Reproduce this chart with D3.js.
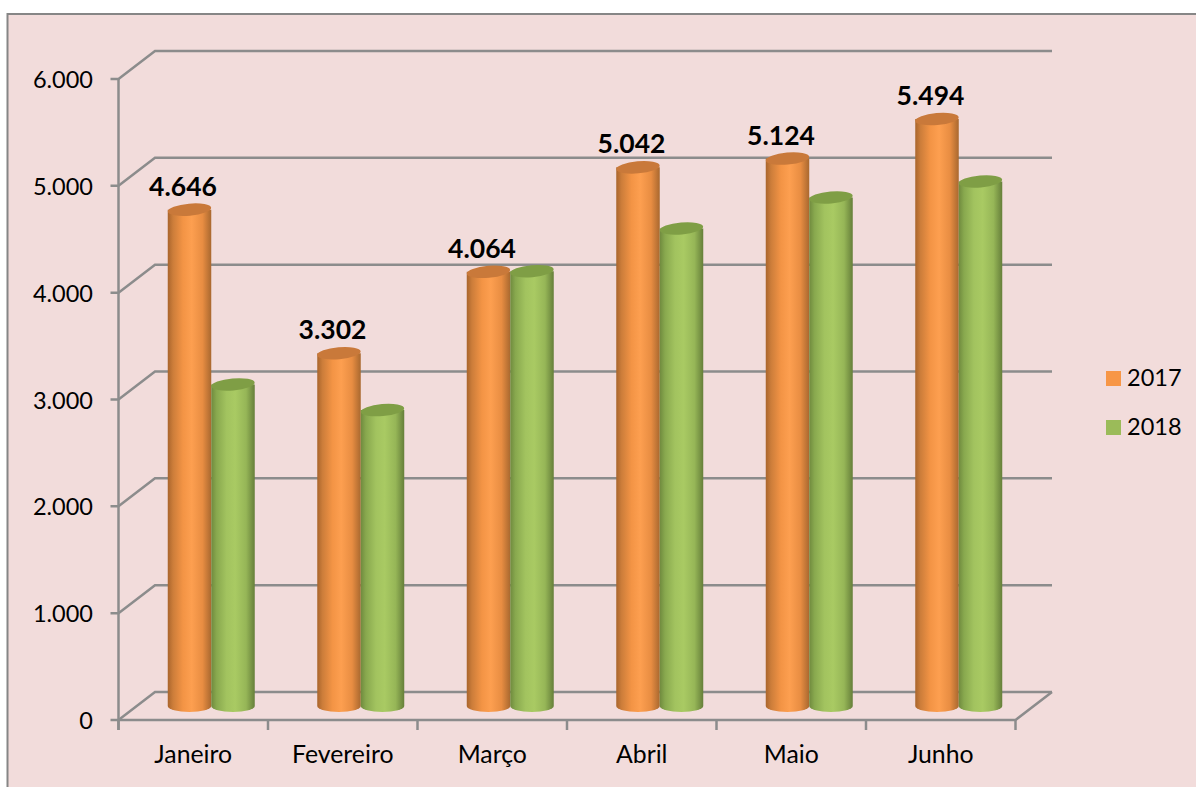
<!DOCTYPE html>
<html><head><meta charset="utf-8">
<script src="https://d3js.org/d3.v7.min.js"></script>
<style>html,body{margin:0;padding:0;background:#fff;overflow:hidden}svg{display:block}text{font-family:Lato,"Open Sans",sans-serif;fill:#000}</style>
</head><body><div id="c"></div>
<script>
const months=["Janeiro","Fevereiro","Março","Abril","Maio","Junho"];
const series17=[4646,3302,4064,5042,5124,5494];
const series18=[3010,2770,4070,4470,4760,4910];
const labels17=["4.646","3.302","4.064","5.042","5.124","5.494"];
const yTicks=[0,1000,2000,3000,4000,5000,6000];
const seriesNames=["2017","2018"];
const W=1196,H=787;
const svg=d3.select("#c").append("svg").attr("width",W).attr("height",H);
svg.append("rect").attr("x",7.5).attr("y",14).attr("width",1220).attr("height",800).attr("fill","#f2dcdb").attr("stroke","#868686").attr("stroke-width",2);
const defs=svg.append("defs");
function grad(id,stops){const g=defs.append("linearGradient").attr("id",id);stops.forEach(s=>g.append("stop").attr("offset",s[0]).attr("stop-color",s[1]));}
grad("o",[[0,"#a9652c"],[.12,"#cc7d3a"],[.35,"#f39445"],[.55,"#fd9f50"],[.8,"#e88d42"],[1,"#a9682f"]]);
grad("g",[[0,"#6f8a3e"],[.12,"#88a84e"],[.35,"#a2c35f"],[.55,"#a9ca63"],[.8,"#96b657"],[1,"#667f3a"]]);
const x=d3.scaleBand().domain(months).range([118.5,1015.5]);
const y=d3.scaleLinear().domain([0,6000]).range([720,79]);
const dx=36.5,dy=-28;
const grey="#8c8c8c";
const G=svg.append("g").attr("fill","none").attr("stroke",grey).attr("stroke-width",2.5);
yTicks.forEach(t=>{
  G.append("path").attr("d",`M${x.range()[0]-8},${y(t)}H${x.range()[0]}L${x.range()[0]+dx},${y(t)+dy}H${x.range()[1]+dx}`);
});
G.append("path").attr("d",`M${x.range()[0]},${y(6000)}V${y(0)+10}`);
G.append("path").attr("d",`M${x.range()[0]},${y(0)}H${x.range()[1]}L${x.range()[1]+dx},${y(0)+dy}`);
months.concat([null]).forEach((m,i)=>{const px=x.range()[0]+i*x.bandwidth();G.append("path").attr("d",`M${px},${y(0)}v10`);});
yTicks.forEach(t=>svg.append("text").attr("x",93).attr("y",y(t)+9).attr("text-anchor","end").attr("font-size",23.5).text(d3.format(",")(t).replace(",",".")));
months.forEach(m=>svg.append("text").attr("x",x(m)+x.bandwidth()/2).attr("y",763).attr("text-anchor","middle").attr("font-size",24.8).text(m));
const bw=43.5,base=-14,ry=6;
function cyl(v,cx,fill){
  const top=y(v)+base, bot=y(0)+base, rx=bw/2;
  const g=svg.append("g");
  g.append("path").attr("d",`M${cx-rx},${top}V${bot}A${rx},${ry} 0 0 0 ${cx+rx},${bot}V${top}Z`).attr("fill",`url(#${fill})`);
  g.append("ellipse").attr("cx",cx).attr("cy",top).attr("rx",rx).attr("ry",ry).attr("fill",fill=="o"?"#c9793a":"#7f9e45").attr("transform",`rotate(-5 ${cx} ${top})`);
}
months.forEach((m,i)=>{
  const c=x(m)+x.bandwidth()/2+18;
  cyl(series17[i],c-bw/2,"o");
  cyl(series18[i],c+bw/2,"g");
  svg.append("text").attr("x",c-bw/2-6.5).attr("y",y(series17[i])+base-14).attr("text-anchor","middle").attr("font-size",26.5).attr("font-weight",700).text(labels17[i]);
});
[["#f79646",0],["#9bbb59",1]].forEach(([c,i])=>{
  svg.append("rect").attr("x",1106).attr("y",371+i*49).attr("width",15).attr("height",15).attr("fill",c);
  svg.append("text").attr("x",1127).attr("y",386+i*49).attr("font-size",23.5).text(seriesNames[i]);
});
</script></body></html>
